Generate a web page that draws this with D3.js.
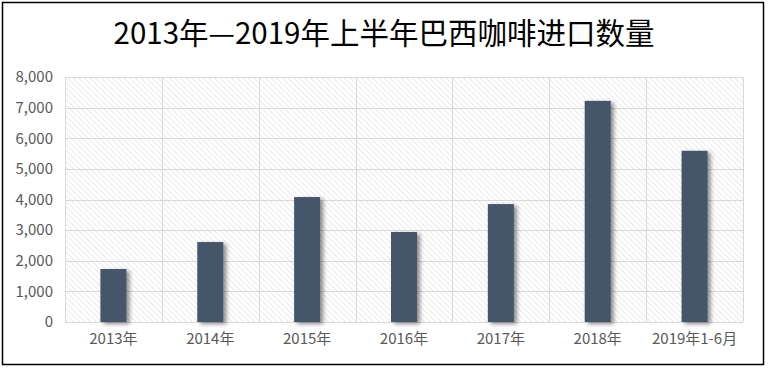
<!DOCTYPE html>
<html>
<head>
<meta charset="utf-8">
<script src="https://cdn.jsdelivr.net/npm/d3@7"></script>
<style>
  body { margin: 0; background: #fff; }
  text { font-family: "Noto Sans CJK SC", "Noto Sans", sans-serif; }
</style>
</head>
<body>
<script>
//
// DATA
//
var years = ["2013年", "2014年", "2015年", "2016年", "2017年", "2018年", "2019年1-6月"];
var amounts = [1730, 2610, 4080, 2940, 3850, 7220, 5590];
var yTicks = [0, 1000, 2000, 3000, 4000, 5000, 6000, 7000, 8000];
var title = "2013年—2019年上半年巴西咖啡进口数量";

//
// LAYOUT
//
var width = 768, height = 371;
var plot = { left: 65, right: 743, top: 77, bottom: 322 };

var svg = d3.select("body").append("svg")
    .attr("width", width)
    .attr("height", height);

var defs = svg.append("defs");

// hatch fill for the plot area
var hatch = defs.append("pattern")
    .attr("id", "hatch")
    .attr("patternUnits", "userSpaceOnUse")
    .attr("width", 4)
    .attr("height", 4)
    .attr("patternTransform", "rotate(-45)");
hatch.append("line")
    .attr("x1", 0).attr("y1", 0)
    .attr("x2", 0).attr("y2", 4)
    .attr("stroke", "#d6d6d6")
    .attr("stroke-width", 1);

// shadow under the bars
var shadow = defs.append("filter")
    .attr("id", "shadow")
    .attr("x", "-30%").attr("y", "-10%")
    .attr("width", "180%").attr("height", "130%");
shadow.append("feDropShadow")
    .attr("dx", 3).attr("dy", 2)
    .attr("stdDeviation", 2)
    .attr("flood-color", "#000")
    .attr("flood-opacity", 0.45);

// outer frame
svg.append("rect")
    .attr("x", 2.5).attr("y", 2.5)
    .attr("width", 761).attr("height", 362)
    .attr("fill", "#fff")
    .attr("stroke", "#000")
    .attr("stroke-width", 1.5);

// title
svg.append("text")
    .attr("x", 384)
    .attr("y", 44)
    .attr("text-anchor", "middle")
    .attr("font-size", 29.5)
    .attr("fill", "#000")
    .text(title);

//
// SCALES
//
var x = d3.scaleBand()
    .domain(years)
    .range([plot.left, plot.right])
    .paddingInner(0)
    .paddingOuter(0);

var y = d3.scaleLinear()
    .domain([0, 8000])
    .range([plot.bottom, plot.top]);

// plot background
svg.append("rect")
    .attr("x", plot.left)
    .attr("y", plot.top)
    .attr("width", plot.right - plot.left)
    .attr("height", plot.bottom - plot.top)
    .attr("fill", "url(#hatch)");

// horizontal grid
svg.append("g")
    .selectAll("line")
    .data(yTicks)
    .enter()
    .append("line")
    .attr("x1", plot.left)
    .attr("x2", plot.right)
    .attr("y1", function(d){ return Math.round(y(d)) + 0.5; })
    .attr("y2", function(d){ return Math.round(y(d)) + 0.5; })
    .attr("stroke", "#d9d9d9")
    .attr("stroke-width", 1);

// vertical grid at category borders
var borders = years.map(function(d){ return x(d); }).concat([plot.right]);
svg.append("g")
    .selectAll("line")
    .data(borders)
    .enter()
    .append("line")
    .attr("x1", function(d){ return Math.round(d) + 0.5; })
    .attr("x2", function(d){ return Math.round(d) + 0.5; })
    .attr("y1", plot.top)
    .attr("y2", plot.bottom)
    .attr("stroke", "#d9d9d9")
    .attr("stroke-width", 1);

// bars
var barW = 26;
svg.append("g")
    .selectAll("rect")
    .data(amounts)
    .enter()
    .append("rect")
    .attr("x", function(d, i){ return x(years[i]) + x.bandwidth() / 2 - barW / 2; })
    .attr("y", function(d){ return y(d); })
    .attr("width", barW)
    .attr("height", function(d){ return y(0) - y(d); })
    .attr("fill", "#44546a")
    .attr("filter", "url(#shadow)");

// y axis labels
var yAxis = d3.axisLeft(y)
    .tickValues(yTicks)
    .tickSize(0)
    .tickPadding(12)
    .tickFormat(d3.format(","));
svg.append("g")
    .attr("transform", "translate(" + plot.left + ",0)")
    .call(yAxis)
    .call(function(g){ g.select(".domain").remove(); })
    .selectAll("text")
    .attr("font-family", "Calibri, Carlito, 'Noto Sans', sans-serif")
    .attr("font-size", 15)
    .attr("fill", "#595959");

// x axis labels
var xAxis = d3.axisBottom(x)
    .tickSize(0)
    .tickPadding(11);
svg.append("g")
    .attr("transform", "translate(0," + plot.bottom + ")")
    .call(xAxis)
    .call(function(g){ g.select(".domain").remove(); })
    .selectAll("text")
    .attr("font-family", "'Noto Sans CJK SC', sans-serif")
    .attr("font-size", 15)
    .attr("fill", "#595959");
</script>
</body>
</html>
